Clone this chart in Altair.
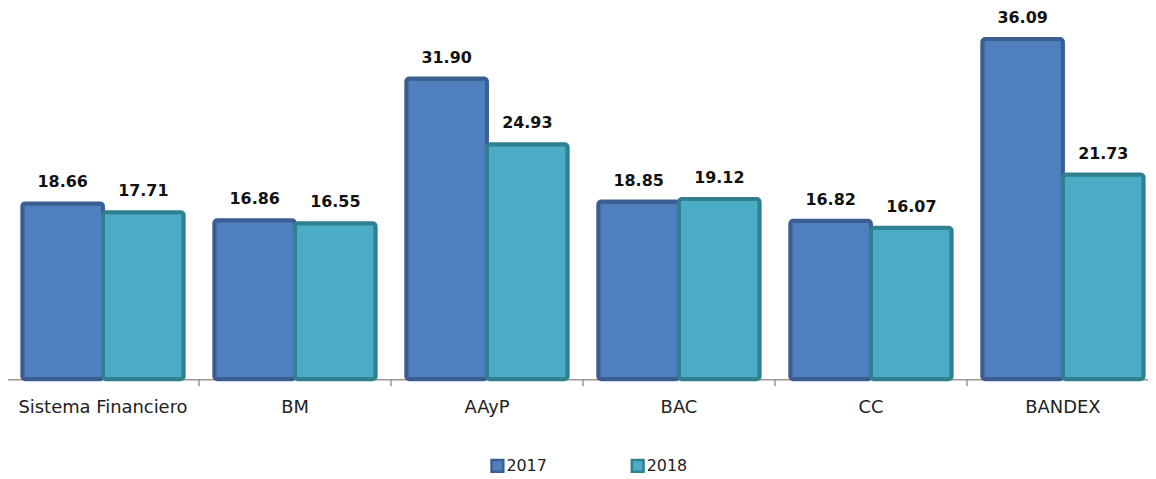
import altair as alt
import pandas as pd

categories = ["Sistema Financiero", "BM", "AAyP", "BAC", "CC", "BANDEX"]
years = ["2017", "2018"]
values_2017 = [18.66, 16.86, 31.90, 18.85, 16.82, 36.09]
values_2018 = [17.71, 16.55, 24.93, 19.12, 16.07, 21.73]

rows = []
for c, a, b in zip(categories, values_2017, values_2018):
    rows.append({"cat": c, "year": "2017", "value": a})
    rows.append({"cat": c, "year": "2018", "value": b})
df = pd.DataFrame(rows)

FONT = "DejaVu Sans"
fills = ["#4F7FBC", "#4AACC5"]
strokes = ["#3B5E92", "#31808F"]

xscale = alt.Scale(paddingInner=0, paddingOuter=0)
x = alt.X("cat:N", sort=categories, title=None, scale=xscale,
          axis=alt.Axis(labelAngle=0, ticks=False, labelPadding=19, labelFontSize=18,
                        labelFont=FONT, labelColor="#222222", domainColor="#999999",
                        domainWidth=1.5, labelFontWeight="normal"))
xo = alt.XOffset("year:N", scale=alt.Scale(paddingInner=0, paddingOuter=0.19))
y = alt.Y("value:Q", title=None, axis=None,
          scale=alt.Scale(domain=[0, 39.26], nice=False))

bars = alt.Chart(df).mark_bar(strokeWidth=4, cornerRadius=3).encode(
    x=x, xOffset=xo, y=y,
    color=alt.Color("year:N", scale=alt.Scale(domain=years, range=fills),
                    legend=alt.Legend(title=None, orient="none", legendX=485, legendY=451,
                                      direction="horizontal", symbolType="square",
                                      symbolSize=140, symbolStrokeWidth=2.5,
                                      labelFontSize=16, labelFont=FONT, labelColor="#222222",
                                      labelOffset=1, columnPadding=80)),
    stroke=alt.Stroke("year:N", scale=alt.Scale(domain=years, range=strokes), legend=None),
)

labels = alt.Chart(df).mark_text(fontWeight="bold", fontSize=16, font=FONT,
                                 color="#111111", baseline="middle", dy=-21).encode(
    x=x, xOffset=xo, y=y, text=alt.Text("value:Q", format=".2f")
)

ticks = alt.Chart(pd.DataFrame({"cat": categories})).mark_rule(
    color="#999999", strokeWidth=1.5).encode(
    x=alt.X("cat:N", sort=categories, bandPosition=0, scale=xscale),
    y=alt.value(372), y2=alt.value(379)
)

chart = alt.layer(bars, labels, ticks).properties(
    width=1158, height=372,
    padding={"left": -1, "top": 0, "right": -11, "bottom": 95},
    autosize=alt.AutoSizeParams(type="none"),
).configure_view(stroke=None)

chart.save("out.html", embed_options={"renderer": "svg", "actions": False})
